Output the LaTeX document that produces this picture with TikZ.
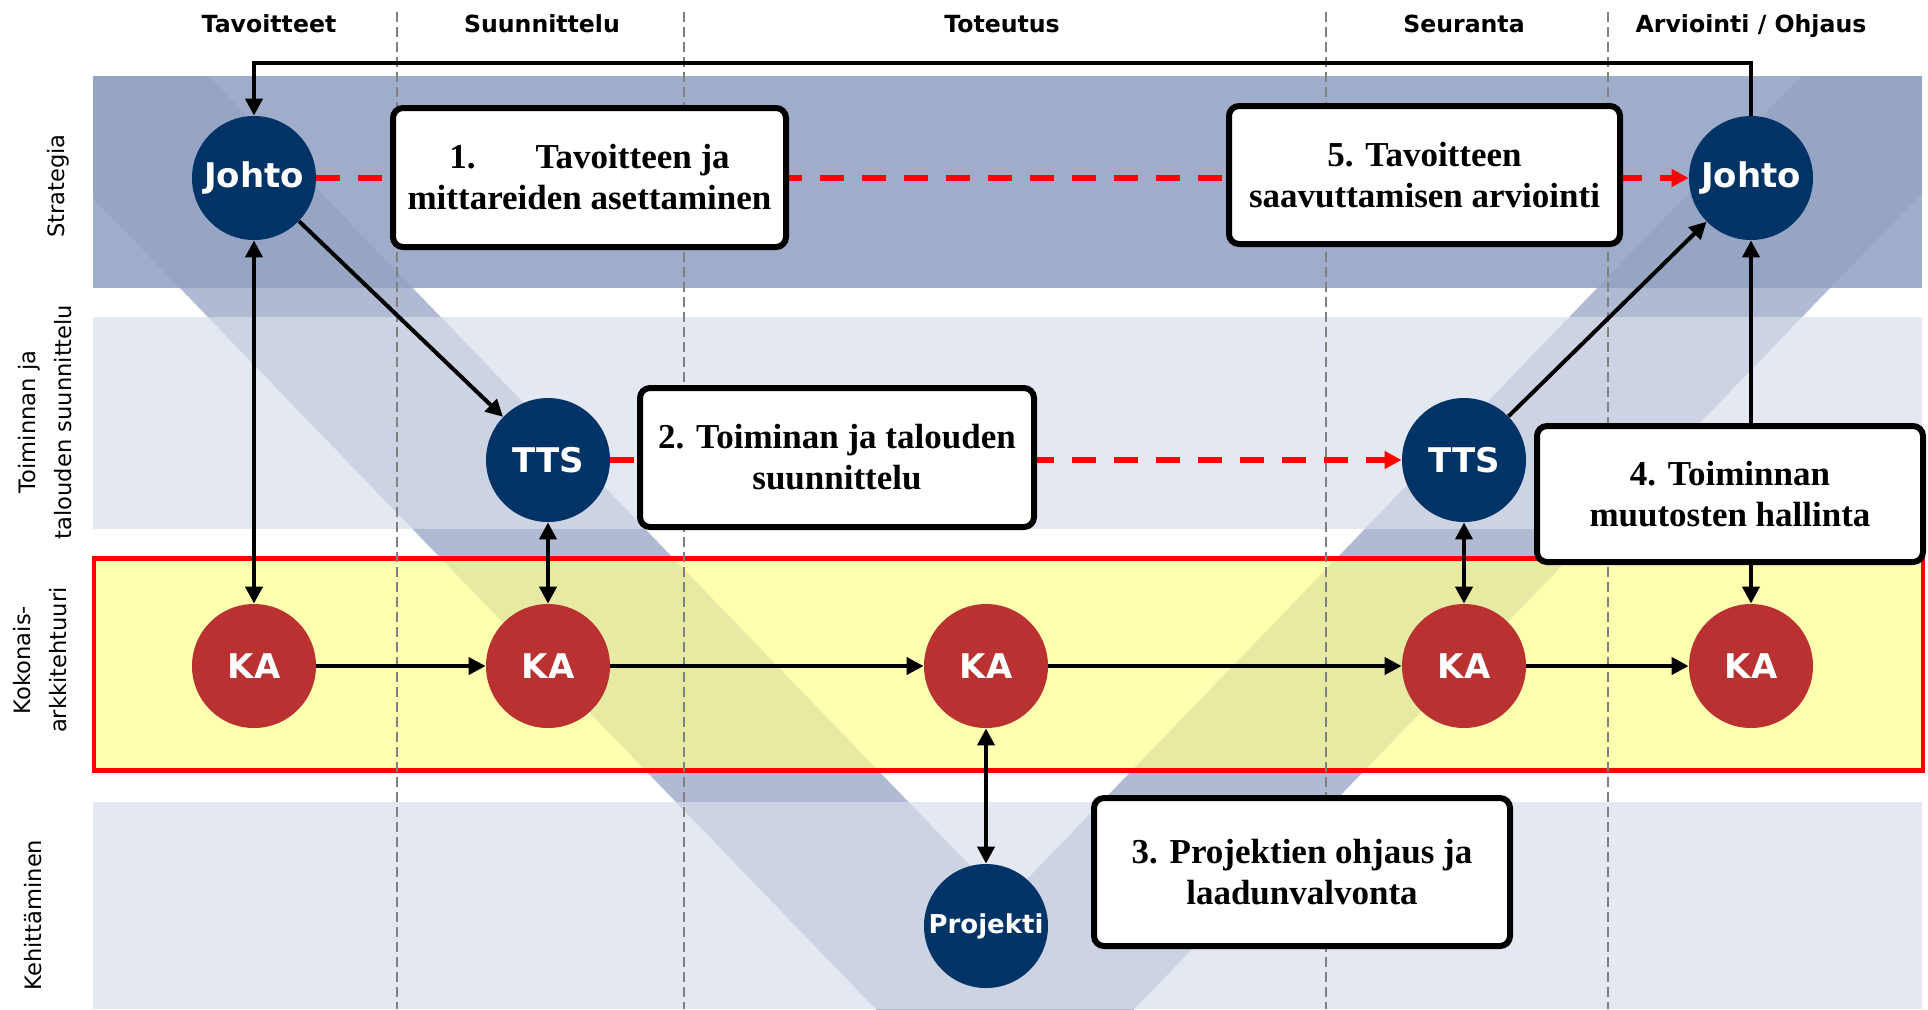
\documentclass[tikz,border=0pt]{standalone}
\usepackage{fontspec}
\setmainfont{Liberation Serif}
\newfontfamily\vfont{DejaVu Sans}
\usetikzlibrary{arrows.meta,positioning}
\definecolor{johtoblue}{RGB}{0,52,102}
\definecolor{kared}{RGB}{185,49,49}
\definecolor{vblue}{RGB}{176,186,211}
\definecolor{stratband}{RGB}{149,163,196}
\definecolor{lightband}{RGB}{216,222,234}
\definecolor{kayellow}{RGB}{255,255,142}
\definecolor{phasegray}{RGB}{128,128,128}
\tikzset
{
    bluenode/.style  = {circle, fill=johtoblue, text=white, inner sep=0pt, minimum size=62pt, font=\vfont\bfseries\fontsize{17}{20}\selectfont},
    rednode/.style   = {bluenode, fill=kared},
    stepbox/.style   = {draw=black, line width=3pt, rounded corners=5pt, fill=white, align=center, inner sep=0pt, font=\bfseries\fontsize{17.5}{20.5}\selectfont},
    phasetext/.style = {anchor=base, font=\vfont\bfseries\fontsize{11.8}{14}\selectfont},
    rowtext/.style   = {rotate=90, align=center, font=\vfont\fontsize{11.3}{18}\selectfont},
    phaseline/.style = {phasegray, line width=0.8pt, dash pattern=on 5pt off 2.5pt},
    link/.style      = {line width=2pt},
    redlink/.style   = {red, line width=3.2pt, dash pattern=on 12pt off 9pt}
}

\begin{document}
\begin{tikzpicture}
    [x=0.5pt, y=-0.5pt, >={Triangle[length=8.5pt,width=8.5pt]}]
    \useasboundingbox (0,0) rectangle (1928,1009);
    % V shape behind the rows
    \begin{scope}
      \clip (93,76) rectangle (1922,1009);
      \fill[vblue] (-98,0) -- (1005,1143) -- (2108,0) -- (1875,0) -- (1005,902) -- (135,0) -- cycle;
    \end{scope}
    \fill[stratband, fill opacity=0.9] (93,76) rectangle (1922,288);
    \fill[lightband, fill opacity=0.7] (93,317) rectangle (1922,529);
    \draw[red, line width=2.2pt, fill=kayellow, fill opacity=0.7] (94,558.5) rectangle (1923,770.5);
    \fill[lightband, fill opacity=0.7] (93,802) rectangle (1922,1009);

    \foreach \x in {397,684,1326,1608}
      \draw[phaseline] (\x,12) -- (\x,1009);

    \node[phasetext] (tav) at (269,32) {Tavoitteet};
    \node[phasetext] (suun) at (542,32) {Suunnittelu};
    \node[phasetext] (tot) at (1002,32) {Toteutus};
    \node[phasetext] (seur) at (1464,32) {Seuranta};
    \node[phasetext] (arvi) at (1751,32) {Arviointi / Ohjaus};

    \node[rowtext] (strat) at (58,186) {Strategia};
    \node[rowtext] (toim) at (45,422) {Toiminnan ja\\talouden suunnittelu};
    \node[rowtext] (koko) at (40,660) {Kokonais-\\arkkitehtuuri};
    \node[rowtext] (kehi) at (33,915) {Kehittäminen};

    \node[bluenode] (johto1) at (254,178) {Johto};
    \node[bluenode] (johto2) at (1751,178) {Johto};
    \node[bluenode] (tts1) at (548,460) {TTS};
    \node[bluenode] (tts2) at (1464,460) {TTS};
    \node[rednode] (ka1) at (254,666) {KA};
    \node[rednode] (ka2) at (548,666) {KA};
    \node[rednode] (ka3) at (986,666) {KA};
    \node[rednode] (ka4) at (1464,666) {KA};
    \node[rednode] (ka5) at (1751,666) {KA};
    \node[bluenode, font=\vfont\bfseries\fontsize{13}{15}\selectfont] (proj) at (986,926) {Projekti};

    \coordinate (back) at (1000,63);
    \draw[link, ->] (johto2.north) |- (back) -| (johto1.north);
    \draw[link, <->] (johto1) -- (ka1);
    \draw[link, ->] (johto1) -- (tts1);
    \draw[link, <->] (tts1) -- (ka2);
    \draw[link, <->] (ka3) -- (proj);
    \draw[link, <->] (tts2) -- (ka4);
    \draw[link, ->] (tts2) -- (johto2);
    \draw[link, <->] (ka5) -- (johto2);
    \foreach \a/\b in {ka1/ka2, ka2/ka3, ka3/ka4, ka4/ka5}
      \draw[link, ->] (\a) -- (\b);
    \draw[redlink, ->] (johto1) -- (johto2);
    \draw[redlink, ->] (tts1) -- (tts2);

    \node[stepbox, minimum width=196.5pt, minimum height=69.5pt] (step1) at (589.5,177.5) {1.\hspace{30pt}Tavoitteen ja\\mittareiden asettaminen};
    \node[stepbox, minimum width=197pt, minimum height=69.5pt] (step2) at (837,457.5) {2. Toiminan ja talouden\\suunnittelu};
    \node[stepbox, minimum width=208pt, minimum height=74pt] (step3) at (1302,872) {3. Projektien ohjaus ja\\laadunvalvonta};
    \node[stepbox, minimum width=193pt, minimum height=68pt] (step4) at (1730,494) {4. Toiminnan\\muutosten hallinta};
    \node[stepbox, minimum width=195.5pt, minimum height=69pt] (step5) at (1424.5,175) {5. Tavoitteen\\saavuttamisen arviointi};
\end{tikzpicture}
\end{document}
